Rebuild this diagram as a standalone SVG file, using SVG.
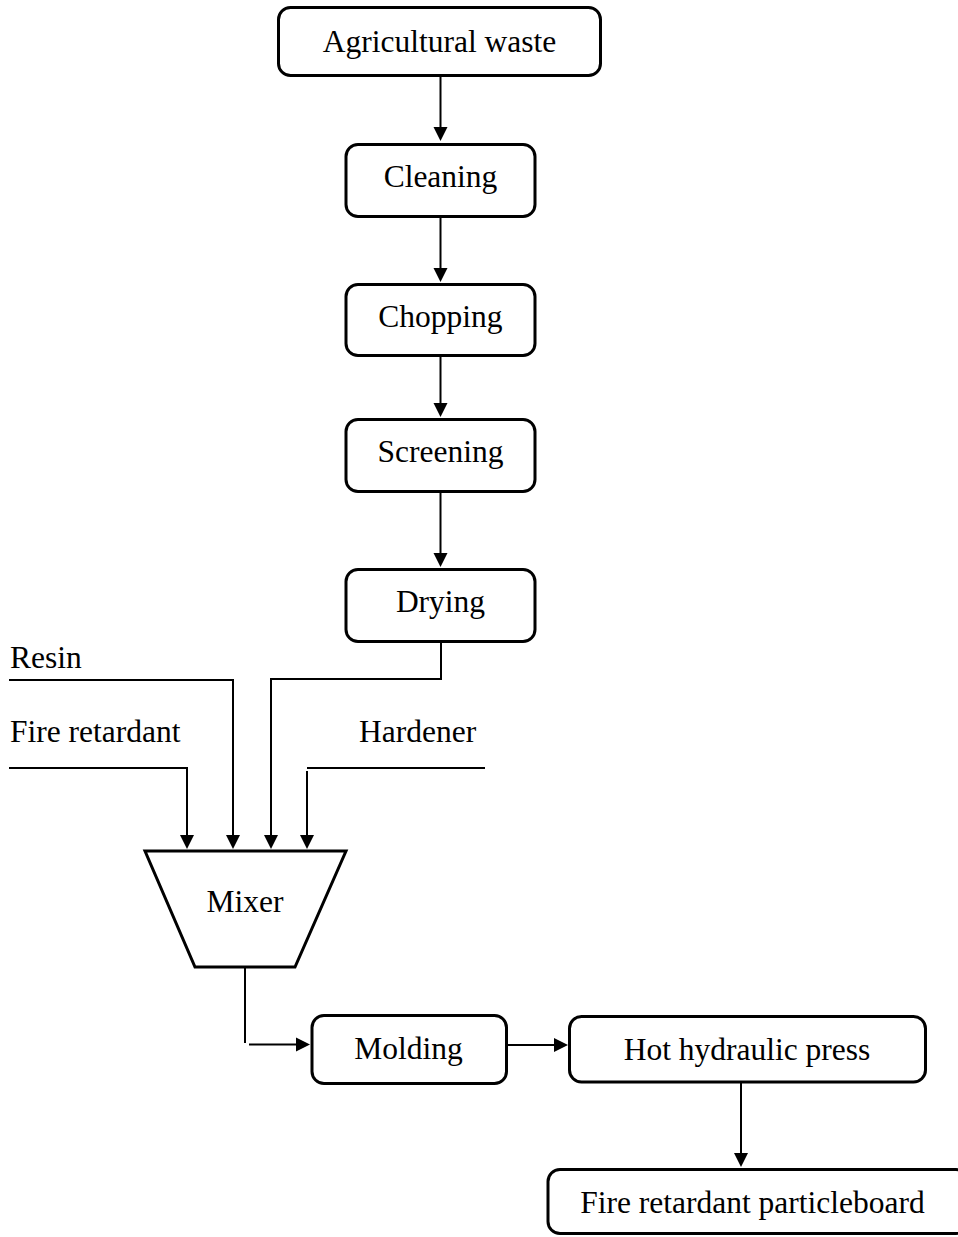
<svg xmlns="http://www.w3.org/2000/svg" width="958" height="1237" viewBox="0 0 958 1237">
<style>
.box{fill:#fff;stroke:#000;stroke-width:3}
.ln{fill:none;stroke:#000;stroke-width:2}
.ah{fill:#000}
.c{text-anchor:middle}
</style>
<rect width="958" height="1237" fill="#fff"/>
<g id="connectors">
<path class="ln" d="M440.5 77V128"/><polygon class="ah" points="433.5,127 447.5,127 440.5,141"/>
<path class="ln" d="M440.5 218V269"/><polygon class="ah" points="433.5,268 447.5,268 440.5,282"/>
<path class="ln" d="M440.5 357V404"/><polygon class="ah" points="433.5,403 447.5,403 440.5,417"/>
<path class="ln" d="M440.5 493V554"/><polygon class="ah" points="433.5,553 447.5,553 440.5,567"/>
<path class="ln" d="M441 643V679H271V836"/><polygon class="ah" points="264,835 278,835 271,849"/>
<path class="ln" d="M9 680H233V836"/><polygon class="ah" points="226,835 240,835 233,849"/>
<path class="ln" d="M9 768H187V836"/><polygon class="ah" points="180,835 194,835 187,849"/>
<path class="ln" d="M485 768H307M307 771V836"/><polygon class="ah" points="300,835 314,835 307,849"/>
<path class="ln" d="M245 967V1043M249 1044.5H297"/><polygon class="ah" points="296,1037.5 296,1051.5 310,1044.5"/>
<path class="ln" d="M508 1045H555"/><polygon class="ah" points="554,1038 554,1052 568,1045"/>
<path class="ln" d="M741 1074V1154"/><polygon class="ah" points="734,1153 748,1153 741,1167"/>
</g>
<g font-family="'Liberation Serif', 'Times New Roman', Tinos, serif" font-size="31.5" fill="#000">
<g id="n-agri"><rect class="box" x="278.5" y="7.5" width="322" height="68" rx="12"/><text class="c" x="439.5" y="52">Agricultural waste</text></g>
<g id="n-cleaning"><rect class="box" x="346" y="144.5" width="189" height="72" rx="12"/><text class="c" x="440.5" y="187">Cleaning</text></g>
<g id="n-chopping"><rect class="box" x="346" y="284.5" width="189" height="71" rx="12"/><text class="c" x="440.5" y="327">Chopping</text></g>
<g id="n-screening"><rect class="box" x="346" y="419.5" width="189" height="72" rx="12"/><text class="c" x="440.5" y="462">Screening</text></g>
<g id="n-drying"><rect class="box" x="346" y="569.5" width="189" height="72" rx="12"/><text class="c" x="440.5" y="612">Drying</text></g>
<g id="l-resin"><text x="10" y="668">Resin</text></g>
<g id="l-fire"><text x="10" y="742">Fire retardant</text></g>
<g id="l-hardener"><text x="359" y="742">Hardener</text></g>
<g id="n-mixer"><polygon class="box" points="145,851 346,851 295,967 195,967"/><text class="c" x="245" y="912">Mixer</text></g>
<g id="n-molding"><rect class="box" x="312" y="1015.5" width="194.5" height="68" rx="12"/><text class="c" x="408.5" y="1059">Molding</text></g>
<g id="n-press"><rect class="box" x="569.5" y="1016.5" width="356" height="65.5" rx="12"/><text class="c" x="747" y="1060">Hot hydraulic press</text></g>
<g id="n-final"><rect class="box" x="548" y="1169.5" width="420" height="64" rx="12"/><text class="c" x="752.5" y="1213">Fire retardant particleboard</text></g>
</g>
</svg>
